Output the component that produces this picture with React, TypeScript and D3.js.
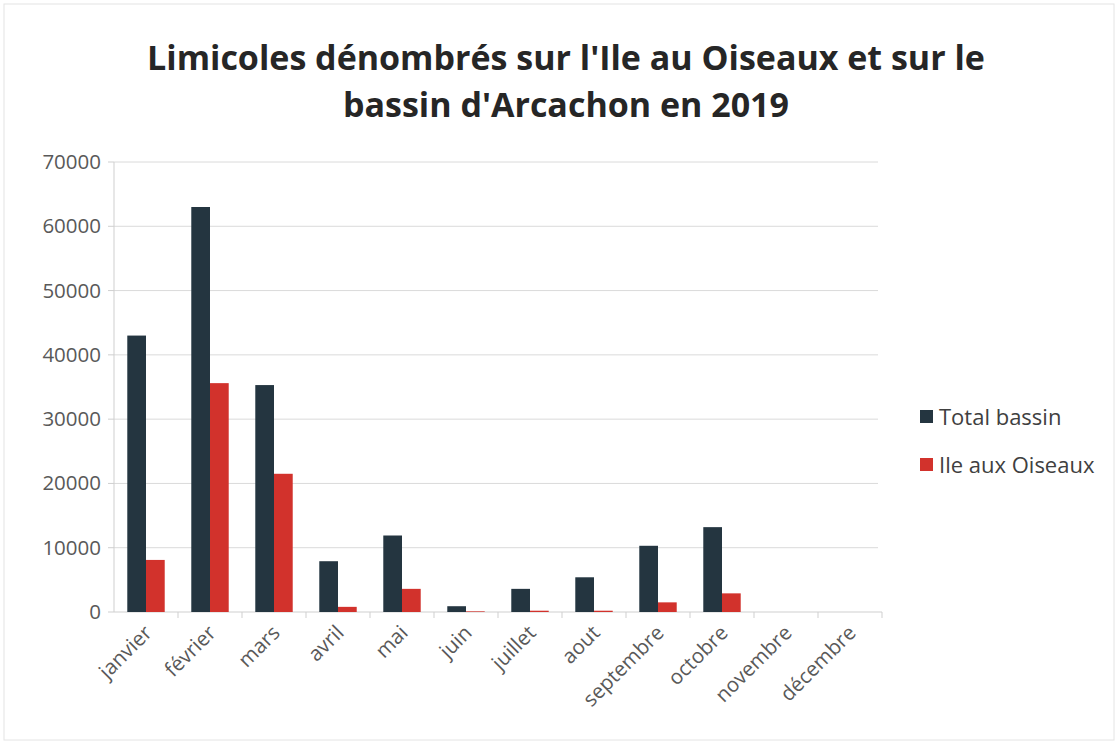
// Limicoles counted on the Ile aux Oiseaux vs the whole Arcachon basin, 2019
import React from 'react';
import * as d3 from 'd3';

const months = ['janvier', 'février', 'mars', 'avril', 'mai', 'juin', 'juillet', 'aout', 'septembre', 'octobre', 'novembre', 'décembre'];
const totalBassin = [43000, 63000, 35300, 7900, 11900, 900, 3600, 5400, 10300, 13200, 0, 0];
const ileOiseaux = [8100, 35600, 21500, 800, 3600, 100, 200, 200, 1500, 2900, 0, 0];
const seriesNames = ['Total bassin', 'Ile aux Oiseaux'];
const seriesColors = ['#243540', '#d2322c'];
const yTicks = [0, 10000, 20000, 30000, 40000, 50000, 60000, 70000];

const W = 1120, H = 744;
const left = 114, right = 882, top = 162, bottom = 612;
const font = 'Open Sans, Liberation Sans, sans-serif';

export default function App() {
  const x = d3.scaleBand<string>().domain(months).range([left, right]).paddingInner(0).paddingOuter(0);
  const inner = d3.scaleBand<number>().domain([0, 1]).range([0, x.bandwidth()]).paddingInner(0).paddingOuter(0.71);
  const y = d3.scaleLinear().domain([0, 70000]).range([bottom, top]);
  const series = [totalBassin, ileOiseaux];

  return (
    <svg width={W} height={H} style={{ position: 'absolute', left: 0, top: 0, background: '#fff' }}>
      <rect x={4} y={4} width={W - 10} height={H - 8} fill="none" stroke="#e4e4e4" />
      <text x={566} y={70} textAnchor="middle" fontFamily={font} fontWeight="bold" fontSize={34} fill="#262626">
        Limicoles dénombrés sur l'Ile au Oiseaux et sur le
      </text>
      <text x={566} y={117} textAnchor="middle" fontFamily={font} fontWeight="bold" fontSize={34} fill="#262626">
        bassin d'Arcachon en 2019
      </text>

      {yTicks.map(t => (
        <g key={t}>
          {t > 0 && <line x1={left} x2={right - 4} y1={y(t)} y2={y(t)} stroke="#dadada" strokeWidth={1} />}
          <line x1={left - 6} x2={left} y1={y(t)} y2={y(t)} stroke="#cfcfcf" />
          <text x={101} y={y(t) + 7} textAnchor="end" fontFamily={font} fontSize={20.5} fill="#595959">{t}</text>
        </g>
      ))}
      <line x1={left} x2={left} y1={top} y2={bottom} stroke="#cfcfcf" />
      <line x1={left} x2={right} y1={bottom} y2={bottom} stroke="#cfcfcf" />
      {months.map((m, i) => (
        <line key={m} x1={x(m)! + x.bandwidth()} x2={x(m)! + x.bandwidth()} y1={bottom} y2={bottom + 6} stroke="#cfcfcf" />
      ))}

      {series.map((vals, s) => (
        <g key={s} fill={seriesColors[s]}>
          {vals.map((v, i) => (
            <rect key={i} x={x(months[i])! + inner(s)!} width={inner.bandwidth()} y={y(v)} height={bottom - y(v)} />
          ))}
        </g>
      ))}

      {months.map(m => {
        const cx = x(m)! + x.bandwidth() / 2 + 2;
        const cy = bottom + 17;
        return (
          <text key={m} transform={`translate(${cx},${cy}) rotate(-45)`} textAnchor="end" dy="0.35em"
            fontFamily={font} fontSize={20.5} fill="#595959">{m}</text>
        );
      })}

      {seriesNames.map((n, i) => (
        <g key={n} transform={`translate(920,${417 + i * 48})`}>
          <rect x={0} y={-7} width={13} height={13} fill={seriesColors[i]} />
          <text x={19} y={0} dy="0.35em" fontFamily={font} fontSize={22} fill="#404040">{n}</text>
        </g>
      ))}
    </svg>
  );
}
